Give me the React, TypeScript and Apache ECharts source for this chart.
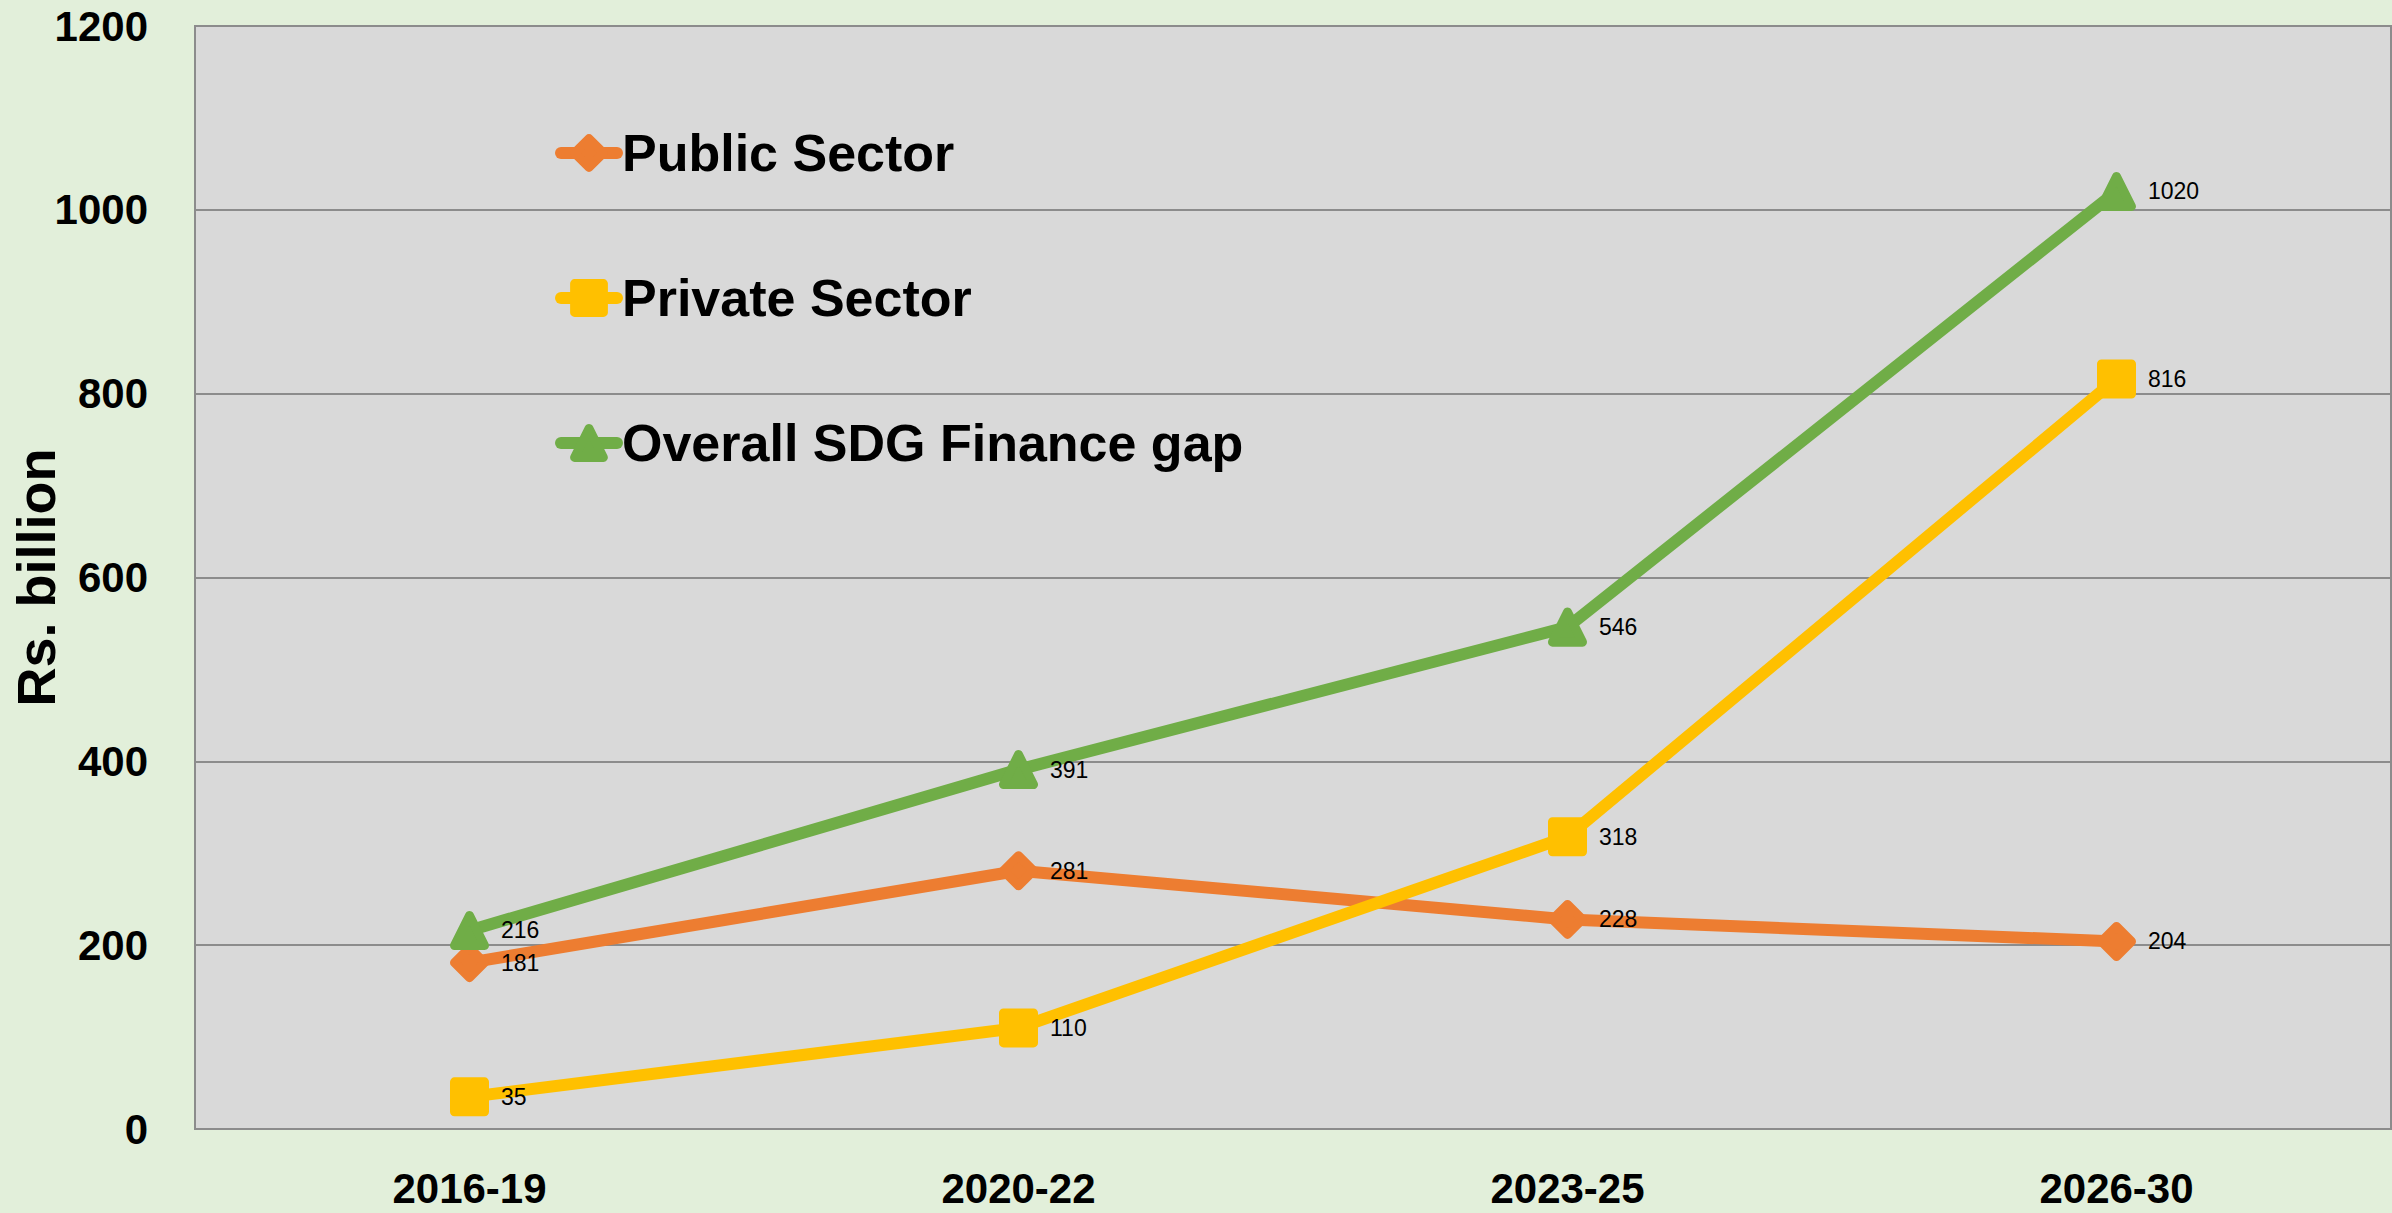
import React, { useEffect, useRef } from "react";
import * as echarts from "echarts";

const categories = ["2016-19", "2020-22", "2023-25", "2026-30"];
const publicSector = [181, 281, 228, 204];
const privateSector = [35, 110, 318, 816];
const overallGap = [216, 391, 546, 1020];
const seriesNames = ["Public Sector", "Private Sector", "Overall SDG Finance gap"];
const yTicks = { min: 0, max: 1200, interval: 200 };

const FONT = "'Liberation Sans', Arial, sans-serif";

export default function App() {
  const ref = useRef<HTMLDivElement>(null);
  useEffect(() => {
    document.body.style.margin = "0";
    if (!ref.current) return;
    const chart = echarts.init(ref.current, undefined, { renderer: "svg" });
    const mk = (name: string, data: number[], color: string, symbol: string) => ({
      name,
      type: "line",
      data,
      symbol,
      symbolSize: 30,
      lineStyle: { color, width: 12, cap: "round", join: "round" },
      itemStyle: { color, borderColor: color, borderWidth: 9, borderJoin: "round" },
      label: {
        show: true,
        position: "right",
        distance: 12,
        color: "#000",
        fontSize: 23,
        fontFamily: FONT,
      },
      emphasis: { disabled: true },
    });
    chart.setOption({
      animation: false,
      backgroundColor: "#E2EFDA",
      textStyle: { fontFamily: FONT },
      grid: {
        left: 195,
        top: 26,
        right: 1,
        bottom: 84,
        outerBoundsMode: "none",
        containLabel: false,
        show: true,
        backgroundColor: "#D9D9D9",
        borderColor: "#8C8C8C",
        borderWidth: 2,
      },
      legend: {
        orient: "vertical",
        left: 550,
        top: 122,
        itemWidth: 56,
        itemHeight: 36,
        itemGap: 93,
        data: seriesNames,
        lineStyle: { width: 12, cap: "round" },
        itemStyle: { borderWidth: 9, borderJoin: "round" },
        textStyle: {
          fontSize: 52,
          lineHeight: 52,
          fontWeight: "bold",
          color: "#000",
          fontFamily: FONT,
        },
      },
      xAxis: {
        type: "category",
        data: categories,
        boundaryGap: true,
        axisLine: { show: true, lineStyle: { color: "#8C8C8C", width: 2 } },
        axisTick: { show: false },
        axisLabel: {
          margin: 38,
          fontSize: 42,
          fontWeight: "bold",
          color: "#000",
          fontFamily: FONT,
        },
      },
      yAxis: {
        type: "value",
        min: yTicks.min,
        max: yTicks.max,
        interval: yTicks.interval,
        name: "Rs. billion",
        nameLocation: "middle",
        nameRotate: 90,
        nameGap: 132,
        nameMoveOverlap: false,
        nameTextStyle: {
          fontSize: 54,
          fontWeight: "bold",
          color: "#000",
          fontFamily: FONT,
        },
        axisLine: { show: true, lineStyle: { color: "#8C8C8C", width: 2 } },
        axisTick: { show: false },
        splitLine: { show: true, lineStyle: { color: "#8C8C8C", width: 2 } },
        axisLabel: {
          margin: 47,
          fontSize: 42,
          fontWeight: "bold",
          color: "#000",
          fontFamily: FONT,
          formatter: (v: number) => String(v),
        },
      },
      series: [
        mk(seriesNames[0], publicSector, "#ED7D31", "diamond"),
        mk(seriesNames[1], privateSector, "#FFC000", "rect"),
        mk(seriesNames[2], overallGap, "#70AD47", "triangle"),
      ],
    });
    return () => chart.dispose();
  }, []);
  return <div ref={ref} style={{ width: 2392, height: 1213 }} />;
}
